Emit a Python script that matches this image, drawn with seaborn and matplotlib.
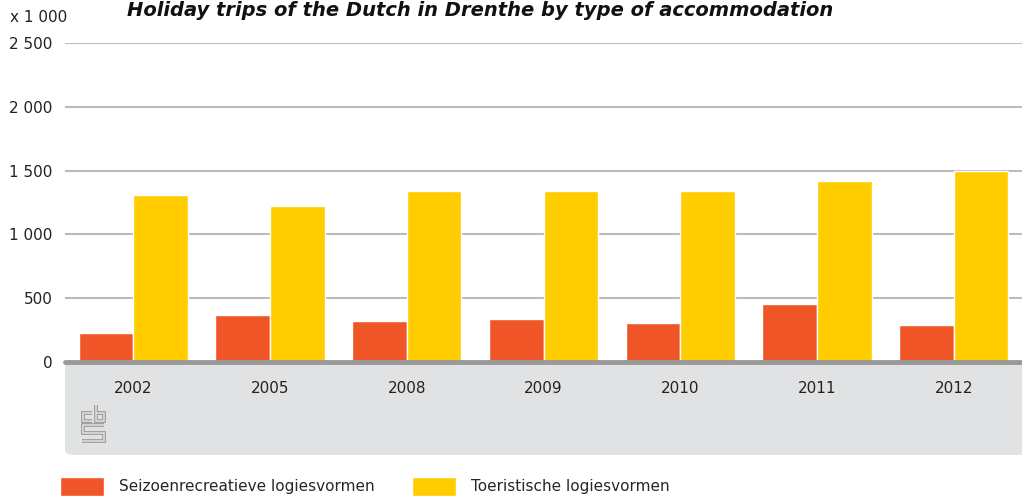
import pandas as pd
import matplotlib.pyplot as plt
import seaborn as sns
from matplotlib.patches import FancyBboxPatch, Rectangle
from matplotlib.lines import Line2D

# Data (x 1 000 holiday trips)
jaren = ["2002", "2005", "2008", "2009", "2010", "2011", "2012"]
seizoen = [227, 368, 321, 337, 306, 457, 288]
toeristisch = [1309, 1223, 1340, 1340, 1337, 1418, 1497]
reeksen = ["Seizoenrecreatieve logiesvormen", "Toeristische logiesvormen"]
kleuren = ["#F05527", "#FFCC00"]
yticks = [0, 500, 1000, 1500, 2000, 2500]
ytick_labels = ["0", "500", "1 000", "1 500", "2 000", "2 500"]

df = pd.DataFrame({
    "jaar": jaren * 2,
    "reeks": [reeksen[0]] * len(jaren) + [reeksen[1]] * len(jaren),
    "waarde": seizoen + toeristisch,
})

sns.set_style("white")
plt.rcParams["font.family"] = ["Liberation Sans Narrow", "DejaVu Sans"]

W, H = 1022, 504
bandkleur = "#E1E2E4"
fig = plt.figure(figsize=(W / 100, H / 100), dpi=100)

# grijze band onder de as (alleen linksonder afgerond)
band = FancyBboxPatch((65 / W, 49 / H), 1.0, 93 / H,
                      boxstyle="round,pad=0,rounding_size=0.01",
                      transform=fig.transFigure, facecolor=bandkleur,
                      edgecolor="none", zorder=-5)
fig.patches.append(band)
fig.patches.append(Rectangle((65 / W, 90 / H), 1.0, 52 / H,
                             transform=fig.transFigure, facecolor=bandkleur,
                             edgecolor="none", zorder=-5))

ax = fig.add_axes([65 / W, 142 / H, 1 - 65 / W, 319 / H])
ax.set_facecolor("none")

sns.barplot(data=df, x="jaar", y="waarde", hue="reeks", palette=kleuren,
            saturation=1, width=0.8, edgecolor="white", linewidth=1,
            ax=ax, zorder=3, legend=True)

ax.set_ylim(0, 2500)
ax.set_xlim(-0.5, len(jaren) - 0.5)
ax.set_yticks(yticks)
ax.set_yticklabels(ytick_labels)
for y in yticks[1:]:
    ax.axhline(y, color="#BBBBBB", linewidth=1.5, zorder=1)
ax.axhline(0, color="#999999", linewidth=3.5, zorder=4, clip_on=False)

for s in ax.spines.values():
    s.set_visible(False)
ax.tick_params(axis="x", length=0, pad=14, labelsize=11, labelcolor="#222222")
ax.tick_params(axis="y", length=0, pad=9, labelsize=11, labelcolor="#222222")
ax.set_xlabel("")
ax.set_ylabel("")

fig.text(10 / W, 1 - 18 / H, "x 1 000", fontsize=11, va="center",
         color="#222222")
fig.text(480 / W, 1 - 1 / H,
         "Holiday trips of the Dutch in Drenthe by type of accommodation",
         fontsize=14, fontweight="bold", style="italic", ha="center",
         va="top", color="#111111")

# cbs logo (dubbele lijn)
def lijn(xs, ys):
    for kleur, lw in [("#9A9A9A", 2.7), (bandkleur, 1.1)]:
        fig.add_artist(Line2D([x / W for x in xs], [1 - y / H for y in ys],
                              color=kleur, linewidth=lw,
                              solid_joinstyle="miter",
                              solid_capstyle="butt"))
lijn([92, 83, 83, 92], [413, 413, 421, 421])
lijn([95.5, 95.5, 103.5, 103.5, 95.5], [405, 421, 421, 413, 413])
lijn([104, 83, 83, 103.5, 103.5, 82], [425, 425, 433, 433, 441, 441])

handles, labels = ax.get_legend_handles_labels()
ax.get_legend().remove()
fig.legend(handles, labels, loc="lower left",
           bbox_to_anchor=(46 / W, -6 / H), ncol=2, frameon=False,
           fontsize=11, handlelength=2.9, handleheight=1.6,
           handletextpad=1.0, columnspacing=2.4)

plt.savefig("out.png", dpi=100)
